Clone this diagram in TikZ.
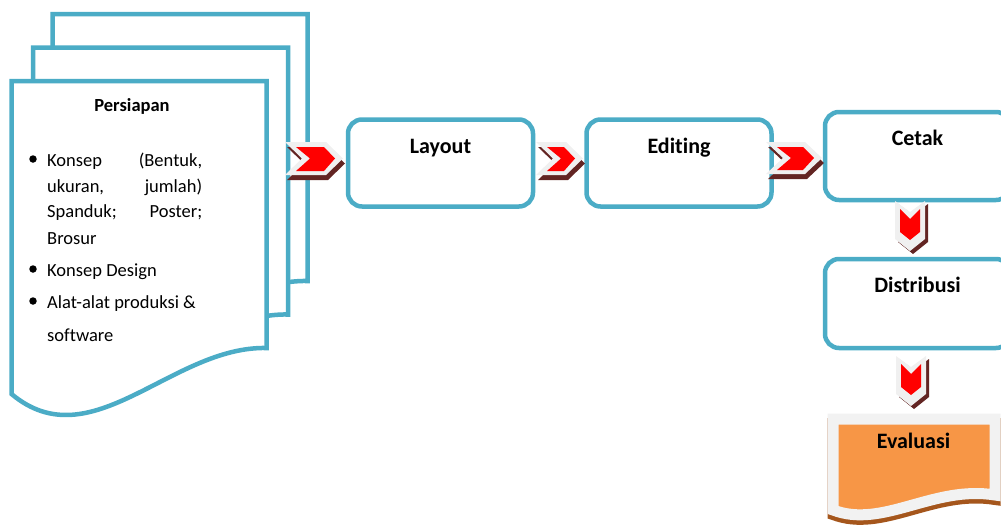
\documentclass[tikz,border=0pt]{standalone}
\usepackage{fontspec}
\setmainfont{Carlito}[Ligatures={NoCommon}]
\definecolor{frameblue}{HTML}{4BACC6}
\definecolor{evalorange}{HTML}{F79646}
\definecolor{evalrim}{HTML}{F2F2F2}
\definecolor{evalshadow}{HTML}{A5561C}
\definecolor{chevred}{HTML}{FF0000}
\definecolor{chevlight}{HTML}{F0F0F0}
\definecolor{chevshadow}{HTML}{632523}
\tikzset{
  pageline/.style={draw=frameblue, fill=white, line width=4.5pt},
  stepbox/.style={draw=frameblue, fill=white, line width=4.5pt, rounded corners=14pt,
    minimum width=185pt, minimum height=87pt, inner sep=0pt},
  boxtitle/.style={font=\fontsize{22}{26}\selectfont\bfseries, anchor=base, inner sep=0pt},
  bodytext/.style={font=\fontsize{18.5}{22}\selectfont, anchor=base west, inner sep=0pt},
  bulletmark/.style={circle, fill=black, minimum size=7.5pt, inner sep=0pt},
  % document page with a wavy lower edge
  pics/docpage/.style={code={
    \filldraw[pageline] (0,0) -- (255,0) -- (255,267)
      .. controls (160,265) and (80,380) .. (0,313) -- cycle;
  }},
  % block arrow pointing right: #1 length, #2 thickness
  pics/rchev/.style n args={2}{code={
    \fill[chevshadow] (2,5) -- (#1-15,5) -- (#1+2,#2/2+5) -- (#1-15,#2+5) -- (2,#2+5) -- (19,#2/2+5) -- cycle;
    \fill[chevlight] (0,0) -- (#1-17,0) -- (#1,#2/2) -- (#1-17,#2) -- (0,#2) -- (17,#2/2) -- cycle;
    \fill[chevred] (11,5) -- (#1-19,5) -- (#1-8,#2/2) -- (#1-19,#2-4) -- (11,#2-4) -- (25,#2/2) -- cycle;
  }},
  % block arrow pointing down
  pics/dchev/.style={code={
    \fill[chevshadow] (3,3) -- (18,14) -- (33,3) -- (33,41) -- (18,53) -- (3,41) -- cycle;
    \fill[chevlight] (0,0) -- (15,11) -- (30,0) -- (30,38) -- (15,50) -- (0,38) -- cycle;
    \fill[chevred] (5,8) -- (15,18) -- (25,8) -- (25,31) -- (15,39) -- (5,31) -- cycle;
  }}
}
\begin{document}
\begin{tikzpicture}[x=1pt,y=-1pt]
\useasboundingbox (0,0) rectangle (1001,525);

% stacked pages
\pic at (52.5,14) {docpage};
\pic at (33,47.5) {docpage};
\pic at (11.5,81) {docpage};

% contents of the front page
\node[boxtitle, font=\fontsize{18.5}{22}\selectfont\bfseries] (prep) at (132,111) {Persiapan};
\node[bulletmark] (b1) at (33,159) {};
\node[bodytext] (l1) at (47,166) {\hbox to 155pt{Konsep\hfill(Bentuk,}};
\node[bodytext] (l2) at (47,192) {\hbox to 155pt{ukuran,\hfill jumlah)}};
\node[bodytext] (l3) at (47,217) {\hbox to 155pt{Spanduk;\hfill Poster;}};
\node[bodytext] (l4) at (47,244) {Brosur};
\node[bulletmark] (b2) at (33,269) {};
\node[bodytext] (l5) at (47,276) {Konsep Design};
\node[bulletmark] (b3) at (33,301) {};
\node[bodytext] (l6) at (47,308) {Alat-alat produksi \&};
\node[bodytext] (l7) at (47,341) {software};

% process boxes
\node[stepbox] (layout) at (440.5,163) {};
\node[boxtitle] (layoutT) at ([yshift=-36pt]layout.north) {Layout};
\node[stepbox] (editing) at (679,163) {};
\node[boxtitle] (editingT) at ([yshift=-36pt]editing.north) {Editing};
\node[stepbox, minimum height=88pt] (cetak) at (917.5,156) {};
\node[boxtitle] (cetakT) at ([yshift=-36pt]cetak.north) {Cetak};
\node[stepbox, minimum height=89pt] (distribusi) at (917.5,303.5) {};
\node[boxtitle] (distribusiT) at ([yshift=-36pt]distribusi.north) {Distribusi};

% evaluation sheet: shadow, rim and orange face
\begin{scope}[yshift=-4.5pt]
  \draw[evalshadow, line width=11pt] (833,419) -- (995,419) -- (995,495)
    .. controls (933,485) and (883,529) .. (833,510) -- cycle;
\end{scope}
\filldraw[draw=evalrim, fill=evalorange, line width=11pt] (833,419) -- (995,419) -- (995,495)
  .. controls (933,485) and (883,529) .. (833,510) -- cycle;
\node[boxtitle] (evaluasi) at (913.5,448) {Evaluasi};

% block arrows between the steps
\pic at (285,142) {rchev={58}{33}};
\pic at (536,142) {rchev={47}{33}};
\pic at (766,142) {rchev={56}{32}};
\pic at (895,201) {dchev};
\pic at (896,356) {dchev};
\end{tikzpicture}
\end{document}
